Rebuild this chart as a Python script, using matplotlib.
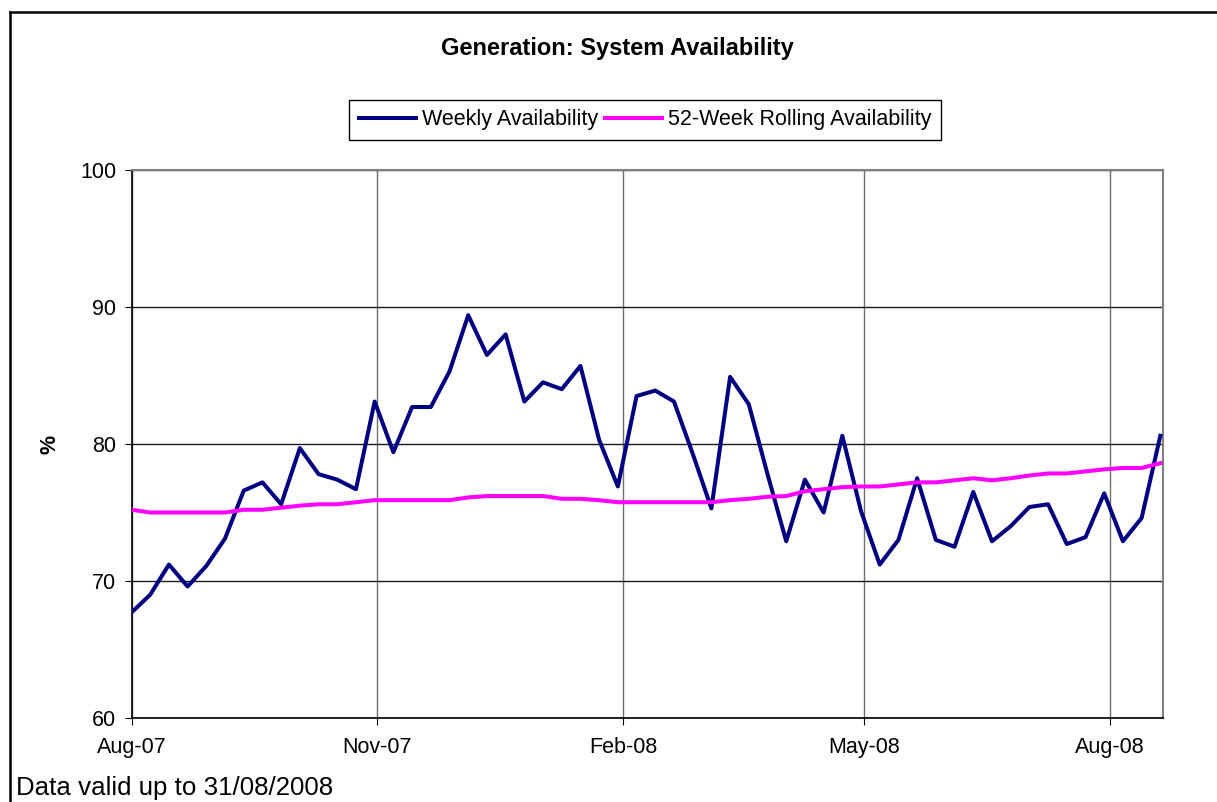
import pandas as pd
import matplotlib.pyplot as plt
import matplotlib.dates as mdates
from matplotlib.lines import Line2D

plt.rcParams['font.family'] = ['Liberation Sans', 'DejaVu Sans']

# --- data ---
start_date = '2007-08-01'
weekly = [67.7, 69.0, 71.2, 69.6, 71.1, 73.1, 76.6, 77.2, 75.6, 79.7, 77.8, 77.4, 76.7, 83.1,
          79.4, 82.7, 82.7, 85.3, 89.4, 86.5, 88.0, 83.1, 84.5, 84.0, 85.7, 80.3, 76.9,
          83.5, 83.9, 83.1, 79.3, 75.3, 84.9, 82.9, 77.8, 72.9, 77.4, 75.0, 80.6, 75.1,
          71.2, 73.0, 77.5, 73.0, 72.5, 76.5, 72.9, 74.0, 75.4, 75.6, 72.7, 73.2, 76.4,
          72.9, 74.6, 80.6]
rolling = [75.2, 75.0, 75.0, 75.0, 75.0, 75.0, 75.2, 75.2, 75.35, 75.5, 75.6, 75.6, 75.75, 75.9,
           75.9, 75.9, 75.9, 75.9, 76.1, 76.2, 76.2, 76.2, 76.2, 76.0, 76.0, 75.9, 75.75,
           75.75, 75.75, 75.75, 75.75, 75.75, 75.9, 76.0, 76.15, 76.2, 76.55, 76.7, 76.85, 76.9,
           76.9, 77.05, 77.2, 77.2, 77.35, 77.5, 77.35, 77.5, 77.7, 77.85, 77.85, 78.0, 78.15,
           78.25, 78.25, 78.6]
tick_months = ['2007-08-01', '2007-11-01', '2008-02-01', '2008-05-01', '2008-08-01']
y_ticks = [60, 70, 80, 90, 100]

dates = pd.date_range(start_date, periods=len(weekly), freq='7D')

W, H = 1217, 802
fig = plt.figure(figsize=(W / 100, H / 100), dpi=100)
fig.patch.set_facecolor('white')

# plot area in pixels: left 131.5, right 1163, top 170, bottom 718
ax = fig.add_axes([131.5 / W, (H - 718) / H, (1163 - 131.5) / W, (718 - 170) / H])

ax.plot(dates, weekly, color='#000080', lw=2.9, label='Weekly Availability', zorder=3)
ax.plot(dates, rolling, color='#FF00FF', lw=2.9, label='52-Week Rolling Availability', zorder=3)

ax.set_xlim(dates[0], dates[-1] + pd.Timedelta(days=1))
ax.set_ylim(60, 100)
ax.set_yticks(y_ticks)
ax.set_xticks(pd.to_datetime(tick_months))
ax.xaxis.set_major_formatter(mdates.DateFormatter('%b-%y'))

# gridlines: horizontal dark, vertical grey
ax.grid(axis='y', color='#1a1a1a', lw=1.0, zorder=1)
ax.grid(axis='x', color='#707070', lw=1.0, zorder=1)

for side in ['left', 'bottom']:
    ax.spines[side].set_color('black')
    ax.spines[side].set_linewidth(1.2)
for side in ['top', 'right']:
    ax.spines[side].set_color('#808080')
    ax.spines[side].set_linewidth(1.5)

ax.tick_params(axis='both', direction='out', labelsize=15.5, colors='black')
ax.tick_params(axis='x', length=5, pad=9)
ax.tick_params(axis='y', length=5, pad=6)

# title, axis label, footnote
fig.text(617 / W, 1 - 48 / H, 'Generation: System Availability',
         ha='center', va='center', fontsize=17, fontweight='bold')
fig.text(50 / W, 1 - 444 / H, '%', rotation=90, ha='center', va='center',
         fontsize=15.5, fontweight='bold')
fig.text(16 / W, 1 - 788 / H, 'Data valid up to 31/08/2008',
         ha='left', va='center', fontsize=18.6)

leg = fig.legend(loc='center', bbox_to_anchor=(645 / W, 1 - 120 / H), ncol=2,
                 fontsize=15.5, frameon=True, fancybox=False, framealpha=1,
                 edgecolor='black', handlelength=2.65, handletextpad=0.3,
                 columnspacing=0.3, borderpad=0.45)
leg.get_frame().set_linewidth(1.0)

# outer chart border (only left and top visible in the reference)
fig.add_artist(Line2D([9.5 / W, 9.5 / W], [0, 1 - 12 / H], transform=fig.transFigure,
                      color='black', lw=1.8))
fig.add_artist(Line2D([9.5 / W, 1], [1 - 12 / H, 1 - 12 / H], transform=fig.transFigure,
                      color='black', lw=1.8))

fig.savefig('out.png', dpi=100)
